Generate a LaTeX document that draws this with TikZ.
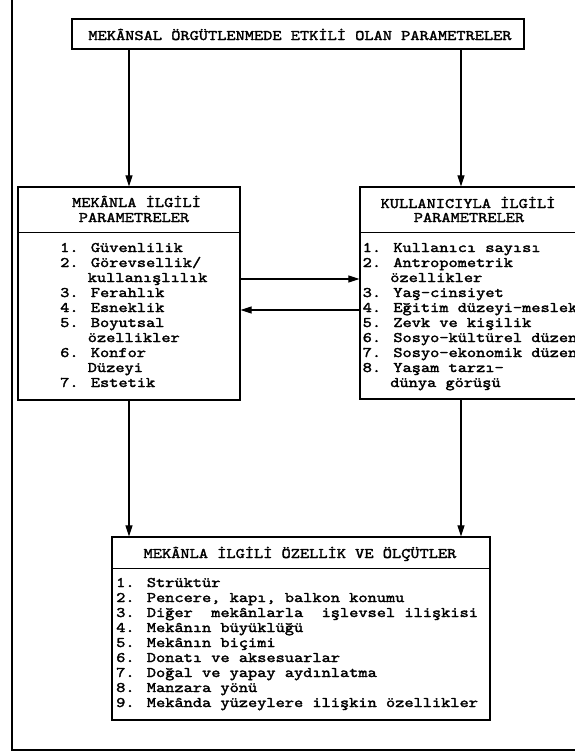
\documentclass[tikz,border=0pt]{standalone}
\usepackage{fontspec}
\newfontfamily\tw{lmmono10-regular}[Extension=.otf, FakeStretch=1.2, FakeBold=2]
\usetikzlibrary{arrows.meta}
% a block of lines with fixed 15pt baseline distance; its baseline is the first line
\newcommand\lns[1]{\vtop{\baselineskip=15pt\lineskiplimit=-50pt\lineskip=0pt\relax #1}}
\newcommand\txtline[1]{\hbox{#1}}
\newcommand\ind{\phantom{0.\ }}
\begin{document}
\begin{tikzpicture}[x=1pt,y=-1pt,
  boxline/.style={draw, line width=1.3pt, inner sep=0pt},
  lab/.style={inner sep=0pt, font=\tw\fontsize{14.6}{15}\selectfont},
  conn/.style={line width=1.1pt, -{Triangle[length=11pt,width=7pt]}},
  rule/.style={line width=0.9pt}]
\useasboundingbox (0,0) rectangle (574,756);

% outer frame (left and bottom edges)
\coordinate (ftop) at (12,-5);
\coordinate (fcorner) at (12,750);
\coordinate (fend) at (580,750);
\draw[line width=1.1pt] (ftop) -- (fcorner) -- (fend);

% boxes
\node[boxline, minimum width=452, minimum height=30] (top) at (298,34) {};
\node[boxline, minimum width=222, minimum height=213] (lft) at (129,293.5) {};
\node[boxline, minimum width=217, minimum height=212] (rgt) at (468.5,293) {};
\node[boxline, minimum width=378, minimum height=183] (bot) at (301,628.5) {};

% header dividers
\coordinate (d1) at (0,232);
\coordinate (d2) at (0,568);
\draw[rule] (lft.west |- d1) -- (lft.east |- d1);
\draw[rule] (rgt.west |- d1) -- (rgt.east |- d1);
\draw[rule] (bot.west |- d2) -- (bot.east |- d2);

% connectors
\coordinate (ra) at (461,0);
\coordinate (h1) at (0,279);
\coordinate (h2) at (0,310);
\draw[conn] (top.south -| lft.north) -- (lft.north);
\draw[conn] (top.south -| ra) -- (rgt.north -| ra);
\draw[conn] (lft.south) -- (bot.north -| lft.south);
\draw[conn] (rgt.south -| ra) -- (bot.north -| ra);
\draw[conn] (lft.east |- h1) -- (rgt.west |- h1);
\draw[conn] (rgt.west |- h2) -- (lft.east |- h2);

% titles
\node[lab, anchor=base] (toptx) at (300,40) {MEKÂNSAL ÖRGÜTLENMEDE ETKİLİ OLAN PARAMETRELER};
\node[lab, anchor=base] (lfth1) at (136.5,207) {MEKÂNLA İLGİLİ};
\node[lab, anchor=base] (lfth2) at (134,222) {PARAMETRELER};
\node[lab, anchor=base] (rgth1) at (468,208) {KULLANICIYLA İLGİLİ};
\node[lab, anchor=base] (rgth2) at (469,222) {PARAMETRELER};
\node[lab, anchor=base] (both) at (300,558) {MEKÂNLA İLGİLİ ÖZELLİK VE ÖLÇÜTLER};

% item lists
\node[lab, anchor=base west] (lftl) at (60,252) {\lns{%
  \txtline{1. Güvenlilik}
  \txtline{2. Görevsellik/}
  \txtline{\ind kullanışlılık}
  \txtline{3. Ferahlık}
  \txtline{4. Esneklik}
  \txtline{5. Boyutsal}
  \txtline{\ind özellikler}
  \txtline{6. Konfor}
  \txtline{\ind Düzeyi}
  \txtline{7. Estetik}}};

\node[lab, anchor=base west] (rgtl) at (362.5,252) {\lns{%
  \txtline{1. Kullanıcı sayısı}
  \txtline{2. Antropometrik}
  \txtline{\ind özellikler}
  \txtline{3. Yaş-cinsiyet}
  \txtline{4. Eğitim düzeyi-meslek}
  \txtline{5. Zevk ve kişilik}
  \txtline{6. Sosyo-kültürel düzen}
  \txtline{7. Sosyo-ekonomik düzen}
  \txtline{8. Yaşam tarzı-}
  \txtline{\ind dünya görüşü}}};

\node[lab, anchor=base west] (botl) at (116,587) {\lns{%
  \txtline{1. Strüktür}
  \txtline{2. Pencere, kapı, balkon konumu}
  \txtline{3. Diğer\ \ mekânlarla\ \ işlevsel ilişkisi}
  \txtline{4. Mekânın büyüklüğü}
  \txtline{5. Mekânın biçimi}
  \txtline{6. Donatı ve aksesuarlar}
  \txtline{7. Doğal ve yapay aydınlatma}
  \txtline{8. Manzara yönü}
  \txtline{9. Mekânda yüzeylere ilişkin özellikler}}};
\end{tikzpicture}
\end{document}
